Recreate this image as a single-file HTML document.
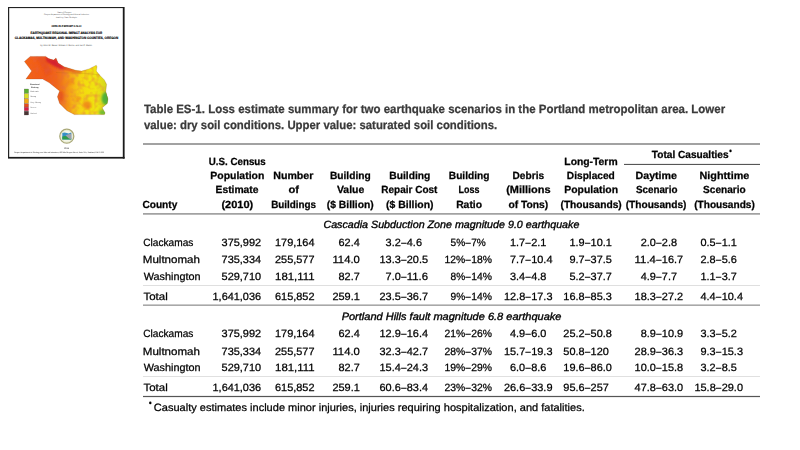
<!DOCTYPE html>
<html><head><meta charset="utf-8"><title>Table ES-1</title>
<style>
html,body{margin:0;padding:0;background:#fff;}
body{width:800px;height:450px;overflow:hidden;position:relative;font-family:"Liberation Sans", sans-serif;}
svg{position:absolute;left:0;top:0;filter:blur(0.2px);}
</style></head><body>
<svg width="800" height="450" viewBox="0 0 800 450" font-family='"Liberation Sans", sans-serif' text-rendering="geometricPrecision">
<g id="cover">
<defs>
<linearGradient id="mapg" x1="24" y1="0" x2="109" y2="0" gradientUnits="userSpaceOnUse">
<stop offset="0" stop-color="#f46414"/>
<stop offset="0.25" stop-color="#f05a18"/>
<stop offset="0.38" stop-color="#f0661a"/>
<stop offset="0.45" stop-color="#f07a1a"/>
<stop offset="0.52" stop-color="#f49a18"/>
<stop offset="0.59" stop-color="#f5bc14"/>
<stop offset="0.66" stop-color="#f4d412"/>
<stop offset="0.75" stop-color="#f2e00e"/>
<stop offset="0.86" stop-color="#eee412"/>
<stop offset="0.92" stop-color="#e0dc18"/>
<stop offset="1" stop-color="#c8d420"/>
</linearGradient>
<filter id="mottle" x="0" y="0" width="100%" height="100%">
<feTurbulence type="fractalNoise" baseFrequency="0.18" numOctaves="2" seed="7" result="n"/>
<feColorMatrix in="n" type="matrix" values="0 0 0 0 0.78  0 0 0 0 0.12  0 0 0 0 0.08  0 0 0 -2.2 1.25" result="r"/>
<feComposite in="r" in2="SourceGraphic" operator="in"/>
</filter>
<linearGradient id="legg" x1="0" y1="88.8" x2="0" y2="115.2" gradientUnits="userSpaceOnUse">
<stop offset="0" stop-color="#58b030"/>
<stop offset="0.22" stop-color="#e8e020"/>
<stop offset="0.45" stop-color="#f0a010"/>
<stop offset="0.62" stop-color="#e84018"/>
<stop offset="0.78" stop-color="#d81848"/>
<stop offset="0.9" stop-color="#602828"/>
<stop offset="1" stop-color="#383030"/>
</linearGradient>
<clipPath id="mapclip"><path id="mapp" d="M30.3,56.4 L45.7,56.4 L48.6,58.6 L53.7,60.1 L56,57.9 L58.2,63 L64,66.7 L75.8,70.3 L81.6,71.1 L89,68.9 L96.3,65.2 L97,66.7 L96.3,71.1 L100,75.5 L104.4,79.9 L106.6,84.3 L105.8,91.6 L108,99 L107.3,103.4 L102.2,107.8 L105.1,112.9 L104.4,114.6 L74.3,114.6 L67,110.7 L59.6,103.4 L57.4,96.8 L59.6,90.9 L56.7,88.7 L49.3,82.8 L42.7,79.1 L25.9,79.1 L31.7,71.1 L24.4,61.5 Z"/></clipPath>
</defs>
<rect x="8" y="7" width="116.6" height="151.6" fill="#fff"/>
<!-- header text lines -->
<g fill="#000" font-family='"Liberation Sans", sans-serif'>
<text x="64.2" y="12.9" font-size="2" text-anchor="middle" fill="#555">State of Oregon</text>
<text x="66.5" y="15.4" font-size="2" text-anchor="middle" fill="#555" textLength="45" lengthAdjust="spacingAndGlyphs">Oregon Department of Geology and Mineral Industries</text>
<text x="66.5" y="18" font-size="2" text-anchor="middle" fill="#555" textLength="21" lengthAdjust="spacingAndGlyphs">Brad Avy, State Geologist</text>
<text x="66.5" y="27.3" font-size="2.4" font-weight="bold" text-anchor="middle" fill="#222" stroke="#222" stroke-width="0.1" textLength="30" lengthAdjust="spacingAndGlyphs">OPEN-FILE REPORT O-18-02</text>
<text x="66.4" y="33.7" font-size="3.4" font-weight="bold" text-anchor="middle" fill="#000" stroke="#000" stroke-width="0.15" textLength="71.7" lengthAdjust="spacingAndGlyphs">EARTHQUAKE REGIONAL IMPACT ANALYSIS FOR</text>
<text x="66.5" y="39.0" font-size="3.4" font-weight="bold" text-anchor="middle" fill="#000" stroke="#000" stroke-width="0.15" textLength="103.4" lengthAdjust="spacingAndGlyphs">CLACKAMAS, MULTNOMAH, AND WASHINGTON COUNTIES, OREGON</text>
<text x="66.1" y="46" font-size="2.2" text-anchor="middle" fill="#444" textLength="51.7" lengthAdjust="spacingAndGlyphs">by John M. Bauer, William J. Burns, and Ian P. Madin</text>
</g>
<!-- map -->
<filter id="soft" x="-5%" y="-5%" width="110%" height="110%"><feGaussianBlur stdDeviation="0.9"/></filter>
<g clip-path="url(#mapclip)">
<rect x="20" y="50" width="95" height="70" fill="url(#mapg)"/>
<rect x="20" y="50" width="95" height="70" fill="#000" filter="url(#mottle)" opacity="0.5"/>
<g filter="url(#soft)">
<path d="M46,56 L48.6,58.6 L53.7,60.1 L56,57.9 L58.2,63 L64,66.7 L66,68 L62,69.5 L57,67.5 L51,64.5 L46,61 Z" fill="#d41c30" opacity="0.95"/>
<path d="M62,66 L75.8,70.3 L81.6,71.1 L81.6,72.8 L75,72.4 L62,69 Z" fill="#e03a24" opacity="0.8"/>
<path d="M36,57 L44,57 L52,72 L47,76 Z" fill="#e04a20" opacity="0.45"/>
<ellipse cx="87" cy="105" rx="4.5" ry="4" fill="#f07018" opacity="0.7"/>
<ellipse cx="78" cy="99" rx="3" ry="2.2" fill="#f08018" opacity="0.55"/>
<ellipse cx="61" cy="96" rx="2.6" ry="5" fill="#e24a18" opacity="0.65"/>
<ellipse cx="70" cy="82" rx="4" ry="2.5" fill="#f07a18" opacity="0.5"/>
<ellipse cx="66" cy="105" rx="4" ry="3" fill="#f08a18" opacity="0.45"/>
<ellipse cx="106" cy="98.5" rx="4.5" ry="6.5" fill="#44ae3c" opacity="0.9"/>
<ellipse cx="103.5" cy="112.5" rx="4.5" ry="3" fill="#5cb838" opacity="0.8"/>
</g>
</g>
<use href="#mapp" fill="none" stroke="#6a3010" stroke-width="0.35" opacity="0.5"/>
<path d="M56,72.5 C70,73.5 85,72.5 100,75" stroke="#8a5010" stroke-width="0.3" opacity="0.45" fill="none"/>
<!-- legend -->
<text x="34.8" y="85.2" font-size="1.9" font-weight="bold" text-anchor="middle" fill="#333" textLength="9.5" lengthAdjust="spacingAndGlyphs">Structural</text>
<text x="34.8" y="88" font-size="1.9" font-weight="bold" text-anchor="middle" fill="#333" textLength="7.5" lengthAdjust="spacingAndGlyphs">Shaking</text>
<g stroke="#555" stroke-width="0.25">
<rect x="24.2" y="89" width="4.4" height="4.2" fill="#5cb030"/>
<rect x="24.2" y="93.6" width="4.4" height="4.6" fill="#dce020"/>
<rect x="24.2" y="98.6" width="4.4" height="4.8" fill="#f2a812"/>
<rect x="24.2" y="103.8" width="4.4" height="3.2" fill="#ea4a1c"/>
<rect x="24.2" y="107.2" width="4.4" height="3.6" fill="#d81c44"/>
<rect x="24.2" y="111.2" width="4.4" height="3.8" fill="#4a3434"/>
</g>
<g fill="#666" font-size="1.9">
<text x="30.2" y="91.8" textLength="8.8" lengthAdjust="spacingAndGlyphs">Moderate</text>
<text x="30.2" y="97.4" textLength="6" lengthAdjust="spacingAndGlyphs">Strong</text>
<text x="30.2" y="102.8" textLength="10.8" lengthAdjust="spacingAndGlyphs">Very Strong</text>
<text x="30.2" y="108.3" textLength="6.2" lengthAdjust="spacingAndGlyphs">Severe</text>
<text x="30.2" y="113.8" textLength="6.4" lengthAdjust="spacingAndGlyphs">Violent</text>
</g>
<!-- logo -->
<circle cx="66.8" cy="136.2" r="7" fill="#f4f6e8" stroke="#a9a878" stroke-width="1.3"/>
<circle cx="66.8" cy="136.2" r="5.9" fill="none" stroke="#d8dcb0" stroke-width="0.4"/>
<path d="M62.3,133 Q64.5,132 66.8,133 Q69,134 71.3,132.6 L71.3,139.4 L62.3,139.4 Z" fill="#3690c8"/>
<path d="M62.3,136.6 Q65.5,135.3 68.5,137.2 L71.3,138.4 L71.3,139.6 L62.3,139.6 Z" fill="#2e9c48"/>
<path d="M65.5,135.2 L71.3,133.6 L71.3,139.2 L68.8,138.6 Z" fill="#a0a0a8"/>
<text x="66.6" y="148.5" font-size="2.2" font-weight="bold" text-anchor="middle" fill="#555">2016</text>
<text x="59" y="153" font-size="1.9" text-anchor="middle" fill="#222" textLength="90" lengthAdjust="spacingAndGlyphs">Oregon Department of Geology and Mineral Industries, 800 NE Oregon Street, Suite 965, Portland, OR 97232</text>
<!-- border -->
<rect x="8" y="7" width="116" height="1.1" fill="#222"/>
<rect x="8" y="7" width="1.2" height="151" fill="#222"/>
<rect x="122.8" y="7" width="1.8" height="151.6" fill="#1a1a1a"/>
<rect x="8" y="156.9" width="116.6" height="1.7" fill="#1a1a1a"/>
</g>

<g id="t" stroke="#000" stroke-width="0.25">
<text x="143.89" y="113.40" font-size="12" textLength="581.26" lengthAdjust="spacingAndGlyphs" font-weight="bold" fill="#3a3a3a" stroke="#3a3a3a">Table ES-1. Loss estimate summary for two earthquake scenarios in the Portland metropolitan area. Lower</text>
<text x="143.94" y="129.40" font-size="12" textLength="353.31" lengthAdjust="spacingAndGlyphs" font-weight="bold" fill="#3a3a3a" stroke="#3a3a3a">value: dry soil conditions. Upper value: saturated soil conditions.</text>
<rect x="143" y="143.20" width="617" height="1.6" fill="#8c8c8c" stroke="none"/>
<rect x="624" y="163.90" width="136" height="1.0" fill="#444" stroke="none"/>
<rect x="143" y="213.20" width="617" height="1.4" fill="#8c8c8c" stroke="none"/>
<rect x="143" y="285.00" width="617" height="0.8" fill="#d8d8d8" stroke="none"/>
<rect x="143" y="304.40" width="617" height="1.6" fill="#a8a8a8" stroke="none"/>
<rect x="143" y="376.10" width="617" height="0.8" fill="#d8d8d8" stroke="none"/>
<rect x="143" y="395.90" width="617" height="1.2" fill="#555" stroke="none"/>
<text x="142.39" y="207.60" font-size="10.4" textLength="34.95" lengthAdjust="spacingAndGlyphs" font-weight="bold">County</text>
<text x="208.82" y="164.70" font-size="10.4" textLength="56.88" lengthAdjust="spacingAndGlyphs" font-weight="bold">U.S. Census</text>
<text x="210.32" y="179.10" font-size="10.4" textLength="54.02" lengthAdjust="spacingAndGlyphs" font-weight="bold">Population</text>
<text x="215.53" y="193.30" font-size="10.4" textLength="43.02" lengthAdjust="spacingAndGlyphs" font-weight="bold">Estimate</text>
<text x="221.45" y="207.60" font-size="10.4" textLength="31.86" lengthAdjust="spacingAndGlyphs" font-weight="bold">(2010)</text>
<text x="273.21" y="179.10" font-size="10.4" textLength="40.23" lengthAdjust="spacingAndGlyphs" font-weight="bold">Number</text>
<text x="288.55" y="193.30" font-size="10.4" textLength="10.53" lengthAdjust="spacingAndGlyphs" font-weight="bold">of</text>
<text x="271.16" y="207.60" font-size="10.4" textLength="44.94" lengthAdjust="spacingAndGlyphs" font-weight="bold">Buildings</text>
<text x="329.94" y="179.10" font-size="10.4" textLength="40.71" lengthAdjust="spacingAndGlyphs" font-weight="bold">Building</text>
<text x="336.95" y="193.30" font-size="10.4" textLength="27.30" lengthAdjust="spacingAndGlyphs" font-weight="bold">Value</text>
<text x="326.78" y="207.60" font-size="10.4" textLength="47.03" lengthAdjust="spacingAndGlyphs" font-weight="bold">($ Billion)</text>
<text x="389.23" y="179.10" font-size="10.4" textLength="41.13" lengthAdjust="spacingAndGlyphs" font-weight="bold">Building</text>
<text x="381.35" y="193.30" font-size="10.4" textLength="56.07" lengthAdjust="spacingAndGlyphs" font-weight="bold">Repair Cost</text>
<text x="386.08" y="207.60" font-size="10.4" textLength="47.44" lengthAdjust="spacingAndGlyphs" font-weight="bold">($ Billion)</text>
<text x="448.84" y="179.10" font-size="10.4" textLength="40.61" lengthAdjust="spacingAndGlyphs" font-weight="bold">Building</text>
<text x="458.62" y="193.30" font-size="10.4" textLength="20.83" lengthAdjust="spacingAndGlyphs" font-weight="bold">Loss</text>
<text x="456.13" y="207.60" font-size="10.4" textLength="25.94" lengthAdjust="spacingAndGlyphs" font-weight="bold">Ratio</text>
<text x="512.54" y="179.10" font-size="10.4" textLength="31.59" lengthAdjust="spacingAndGlyphs" font-weight="bold">Debris</text>
<text x="506.15" y="193.30" font-size="10.4" textLength="44.49" lengthAdjust="spacingAndGlyphs" font-weight="bold">(Millions</text>
<text x="508.39" y="207.60" font-size="10.4" textLength="39.92" lengthAdjust="spacingAndGlyphs" font-weight="bold">of Tons)</text>
<text x="564.33" y="164.70" font-size="10.4" textLength="53.27" lengthAdjust="spacingAndGlyphs" font-weight="bold">Long-Term</text>
<text x="566.84" y="179.10" font-size="10.4" textLength="48.01" lengthAdjust="spacingAndGlyphs" font-weight="bold">Displaced</text>
<text x="564.32" y="193.30" font-size="10.4" textLength="53.71" lengthAdjust="spacingAndGlyphs" font-weight="bold">Population</text>
<text x="560.49" y="207.60" font-size="10.4" textLength="61.22" lengthAdjust="spacingAndGlyphs" font-weight="bold">(Thousands)</text>
<text x="651.80" y="158.20" font-size="10.4" textLength="76.80" lengthAdjust="spacingAndGlyphs" font-weight="bold">Total Casualties</text>
<ellipse cx="730.5" cy="150.9" rx="1.2" ry="1.3" fill="#000" stroke="none"/>
<text x="635.51" y="179.10" font-size="10.4" textLength="41.52" lengthAdjust="spacingAndGlyphs" font-weight="bold">Daytime</text>
<text x="635.91" y="193.30" font-size="10.4" textLength="41.53" lengthAdjust="spacingAndGlyphs" font-weight="bold">Scenario</text>
<text x="625.69" y="207.60" font-size="10.4" textLength="60.81" lengthAdjust="spacingAndGlyphs" font-weight="bold">(Thousands)</text>
<text x="699.50" y="179.10" font-size="10.4" textLength="49.84" lengthAdjust="spacingAndGlyphs" font-weight="bold">Nighttime</text>
<text x="703.10" y="193.30" font-size="10.4" textLength="42.65" lengthAdjust="spacingAndGlyphs" font-weight="bold">Scenario</text>
<text x="694.19" y="207.60" font-size="10.4" textLength="60.61" lengthAdjust="spacingAndGlyphs" font-weight="bold">(Thousands)</text>
<text x="323.41" y="228.40" font-size="10.5" textLength="255.97" lengthAdjust="spacingAndGlyphs" font-style="italic" stroke-width="0.35">Cascadia Subduction Zone magnitude 9.0 earthquake</text>
<text x="341.67" y="319.60" font-size="10.5" textLength="219.74" lengthAdjust="spacingAndGlyphs" font-style="italic" stroke-width="0.35">Portland Hills fault magnitude 6.8 earthquake</text>
<text x="143.19" y="245.50" font-size="10.5" textLength="50.17" lengthAdjust="spacingAndGlyphs">Clackamas</text>
<text x="221.61" y="245.50" font-size="10.5" textLength="39.49" lengthAdjust="spacingAndGlyphs">375,992</text>
<text x="275.06" y="245.50" font-size="10.5" textLength="39.49" lengthAdjust="spacingAndGlyphs">179,164</text>
<text x="338.53" y="245.50" font-size="10.5" textLength="21.27" lengthAdjust="spacingAndGlyphs">62.4</text>
<text x="385.62" y="245.50" font-size="10.5" textLength="15.19" lengthAdjust="spacingAndGlyphs">3.2</text>
<text x="401.21" y="245.50" font-size="10.5" textLength="5.18" lengthAdjust="spacingAndGlyphs">–</text>
<text x="406.79" y="245.50" font-size="10.5" textLength="15.19" lengthAdjust="spacingAndGlyphs">4.6</text>
<text x="450.59" y="245.50" font-size="10.5" textLength="14.62" lengthAdjust="spacingAndGlyphs">5%</text>
<text x="465.61" y="245.50" font-size="10.5" textLength="5.18" lengthAdjust="spacingAndGlyphs">–</text>
<text x="471.19" y="245.50" font-size="10.5" textLength="14.62" lengthAdjust="spacingAndGlyphs">7%</text>
<text x="510.02" y="245.50" font-size="10.5" textLength="15.19" lengthAdjust="spacingAndGlyphs">1.7</text>
<text x="525.61" y="245.50" font-size="10.5" textLength="5.18" lengthAdjust="spacingAndGlyphs">–</text>
<text x="531.19" y="245.50" font-size="10.5" textLength="15.19" lengthAdjust="spacingAndGlyphs">2.1</text>
<text x="569.42" y="245.50" font-size="10.5" textLength="15.19" lengthAdjust="spacingAndGlyphs">1.9</text>
<text x="585.01" y="245.50" font-size="10.5" textLength="5.18" lengthAdjust="spacingAndGlyphs">–</text>
<text x="590.59" y="245.50" font-size="10.5" textLength="21.27" lengthAdjust="spacingAndGlyphs">10.1</text>
<text x="640.72" y="245.50" font-size="10.5" textLength="15.19" lengthAdjust="spacingAndGlyphs">2.0</text>
<text x="656.31" y="245.50" font-size="10.5" textLength="5.18" lengthAdjust="spacingAndGlyphs">–</text>
<text x="661.89" y="245.50" font-size="10.5" textLength="15.19" lengthAdjust="spacingAndGlyphs">2.8</text>
<text x="700.52" y="245.50" font-size="10.5" textLength="15.19" lengthAdjust="spacingAndGlyphs">0.5</text>
<text x="716.11" y="245.50" font-size="10.5" textLength="5.18" lengthAdjust="spacingAndGlyphs">–</text>
<text x="721.69" y="245.50" font-size="10.5" textLength="15.19" lengthAdjust="spacingAndGlyphs">1.1</text>
<text x="142.77" y="263.15" font-size="10.5" textLength="57.24" lengthAdjust="spacingAndGlyphs">Multnomah</text>
<text x="221.61" y="263.15" font-size="10.5" textLength="39.49" lengthAdjust="spacingAndGlyphs">735,334</text>
<text x="275.06" y="263.15" font-size="10.5" textLength="39.49" lengthAdjust="spacingAndGlyphs">255,577</text>
<text x="332.44" y="263.15" font-size="10.5" textLength="27.36" lengthAdjust="spacingAndGlyphs">114.0</text>
<text x="379.54" y="263.15" font-size="10.5" textLength="21.27" lengthAdjust="spacingAndGlyphs">13.3</text>
<text x="401.21" y="263.15" font-size="10.5" textLength="5.18" lengthAdjust="spacingAndGlyphs">–</text>
<text x="406.79" y="263.15" font-size="10.5" textLength="21.27" lengthAdjust="spacingAndGlyphs">20.5</text>
<text x="444.51" y="263.15" font-size="10.5" textLength="20.70" lengthAdjust="spacingAndGlyphs">12%</text>
<text x="465.61" y="263.15" font-size="10.5" textLength="5.18" lengthAdjust="spacingAndGlyphs">–</text>
<text x="471.19" y="263.15" font-size="10.5" textLength="20.70" lengthAdjust="spacingAndGlyphs">18%</text>
<text x="510.02" y="263.15" font-size="10.5" textLength="15.19" lengthAdjust="spacingAndGlyphs">7.7</text>
<text x="525.61" y="263.15" font-size="10.5" textLength="5.18" lengthAdjust="spacingAndGlyphs">–</text>
<text x="531.19" y="263.15" font-size="10.5" textLength="21.27" lengthAdjust="spacingAndGlyphs">10.4</text>
<text x="569.42" y="263.15" font-size="10.5" textLength="15.19" lengthAdjust="spacingAndGlyphs">9.7</text>
<text x="585.01" y="263.15" font-size="10.5" textLength="5.18" lengthAdjust="spacingAndGlyphs">–</text>
<text x="590.59" y="263.15" font-size="10.5" textLength="21.27" lengthAdjust="spacingAndGlyphs">37.5</text>
<text x="634.64" y="263.15" font-size="10.5" textLength="21.27" lengthAdjust="spacingAndGlyphs">11.4</text>
<text x="656.31" y="263.15" font-size="10.5" textLength="5.18" lengthAdjust="spacingAndGlyphs">–</text>
<text x="661.89" y="263.15" font-size="10.5" textLength="21.27" lengthAdjust="spacingAndGlyphs">16.7</text>
<text x="700.52" y="263.15" font-size="10.5" textLength="15.19" lengthAdjust="spacingAndGlyphs">2.8</text>
<text x="716.11" y="263.15" font-size="10.5" textLength="5.18" lengthAdjust="spacingAndGlyphs">–</text>
<text x="721.69" y="263.15" font-size="10.5" textLength="15.19" lengthAdjust="spacingAndGlyphs">5.6</text>
<text x="143.65" y="280.30" font-size="10.5" textLength="56.89" lengthAdjust="spacingAndGlyphs">Washington</text>
<text x="221.61" y="280.30" font-size="10.5" textLength="39.49" lengthAdjust="spacingAndGlyphs">529,710</text>
<text x="275.06" y="280.30" font-size="10.5" textLength="39.49" lengthAdjust="spacingAndGlyphs">181,111</text>
<text x="338.53" y="280.30" font-size="10.5" textLength="21.27" lengthAdjust="spacingAndGlyphs">82.7</text>
<text x="385.62" y="280.30" font-size="10.5" textLength="15.19" lengthAdjust="spacingAndGlyphs">7.0</text>
<text x="401.21" y="280.30" font-size="10.5" textLength="5.18" lengthAdjust="spacingAndGlyphs">–</text>
<text x="406.79" y="280.30" font-size="10.5" textLength="21.27" lengthAdjust="spacingAndGlyphs">11.6</text>
<text x="450.59" y="280.30" font-size="10.5" textLength="14.62" lengthAdjust="spacingAndGlyphs">8%</text>
<text x="465.61" y="280.30" font-size="10.5" textLength="5.18" lengthAdjust="spacingAndGlyphs">–</text>
<text x="471.19" y="280.30" font-size="10.5" textLength="20.70" lengthAdjust="spacingAndGlyphs">14%</text>
<text x="510.02" y="280.30" font-size="10.5" textLength="15.19" lengthAdjust="spacingAndGlyphs">3.4</text>
<text x="525.61" y="280.30" font-size="10.5" textLength="5.18" lengthAdjust="spacingAndGlyphs">–</text>
<text x="531.19" y="280.30" font-size="10.5" textLength="15.19" lengthAdjust="spacingAndGlyphs">4.8</text>
<text x="569.42" y="280.30" font-size="10.5" textLength="15.19" lengthAdjust="spacingAndGlyphs">5.2</text>
<text x="585.01" y="280.30" font-size="10.5" textLength="5.18" lengthAdjust="spacingAndGlyphs">–</text>
<text x="590.59" y="280.30" font-size="10.5" textLength="21.27" lengthAdjust="spacingAndGlyphs">37.7</text>
<text x="640.72" y="280.30" font-size="10.5" textLength="15.19" lengthAdjust="spacingAndGlyphs">4.9</text>
<text x="656.31" y="280.30" font-size="10.5" textLength="5.18" lengthAdjust="spacingAndGlyphs">–</text>
<text x="661.89" y="280.30" font-size="10.5" textLength="15.19" lengthAdjust="spacingAndGlyphs">7.7</text>
<text x="700.52" y="280.30" font-size="10.5" textLength="15.19" lengthAdjust="spacingAndGlyphs">1.1</text>
<text x="716.11" y="280.30" font-size="10.5" textLength="5.18" lengthAdjust="spacingAndGlyphs">–</text>
<text x="721.69" y="280.30" font-size="10.5" textLength="15.19" lengthAdjust="spacingAndGlyphs">3.7</text>
<text x="143.47" y="299.60" font-size="10.5" textLength="24.30" lengthAdjust="spacingAndGlyphs">Total</text>
<text x="212.54" y="299.60" font-size="10.5" textLength="48.56" lengthAdjust="spacingAndGlyphs">1,641,036</text>
<text x="275.06" y="299.60" font-size="10.5" textLength="39.49" lengthAdjust="spacingAndGlyphs">615,852</text>
<text x="332.44" y="299.60" font-size="10.5" textLength="27.36" lengthAdjust="spacingAndGlyphs">259.1</text>
<text x="379.54" y="299.60" font-size="10.5" textLength="21.27" lengthAdjust="spacingAndGlyphs">23.5</text>
<text x="401.21" y="299.60" font-size="10.5" textLength="5.18" lengthAdjust="spacingAndGlyphs">–</text>
<text x="406.79" y="299.60" font-size="10.5" textLength="21.27" lengthAdjust="spacingAndGlyphs">36.7</text>
<text x="450.59" y="299.60" font-size="10.5" textLength="14.62" lengthAdjust="spacingAndGlyphs">9%</text>
<text x="465.61" y="299.60" font-size="10.5" textLength="5.18" lengthAdjust="spacingAndGlyphs">–</text>
<text x="471.19" y="299.60" font-size="10.5" textLength="20.70" lengthAdjust="spacingAndGlyphs">14%</text>
<text x="503.94" y="299.60" font-size="10.5" textLength="21.27" lengthAdjust="spacingAndGlyphs">12.8</text>
<text x="525.61" y="299.60" font-size="10.5" textLength="5.18" lengthAdjust="spacingAndGlyphs">–</text>
<text x="531.19" y="299.60" font-size="10.5" textLength="21.27" lengthAdjust="spacingAndGlyphs">17.3</text>
<text x="563.34" y="299.60" font-size="10.5" textLength="21.27" lengthAdjust="spacingAndGlyphs">16.8</text>
<text x="585.01" y="299.60" font-size="10.5" textLength="5.18" lengthAdjust="spacingAndGlyphs">–</text>
<text x="590.59" y="299.60" font-size="10.5" textLength="21.27" lengthAdjust="spacingAndGlyphs">85.3</text>
<text x="634.64" y="299.60" font-size="10.5" textLength="21.27" lengthAdjust="spacingAndGlyphs">18.3</text>
<text x="656.31" y="299.60" font-size="10.5" textLength="5.18" lengthAdjust="spacingAndGlyphs">–</text>
<text x="661.89" y="299.60" font-size="10.5" textLength="21.27" lengthAdjust="spacingAndGlyphs">27.2</text>
<text x="700.52" y="299.60" font-size="10.5" textLength="15.19" lengthAdjust="spacingAndGlyphs">4.4</text>
<text x="716.11" y="299.60" font-size="10.5" textLength="5.18" lengthAdjust="spacingAndGlyphs">–</text>
<text x="721.69" y="299.60" font-size="10.5" textLength="21.27" lengthAdjust="spacingAndGlyphs">10.4</text>
<text x="143.19" y="336.80" font-size="10.5" textLength="50.17" lengthAdjust="spacingAndGlyphs">Clackamas</text>
<text x="221.61" y="336.80" font-size="10.5" textLength="39.49" lengthAdjust="spacingAndGlyphs">375,992</text>
<text x="275.06" y="336.80" font-size="10.5" textLength="39.49" lengthAdjust="spacingAndGlyphs">179,164</text>
<text x="338.53" y="336.80" font-size="10.5" textLength="21.27" lengthAdjust="spacingAndGlyphs">62.4</text>
<text x="379.54" y="336.80" font-size="10.5" textLength="21.27" lengthAdjust="spacingAndGlyphs">12.9</text>
<text x="401.21" y="336.80" font-size="10.5" textLength="5.18" lengthAdjust="spacingAndGlyphs">–</text>
<text x="406.79" y="336.80" font-size="10.5" textLength="21.27" lengthAdjust="spacingAndGlyphs">16.4</text>
<text x="444.51" y="336.80" font-size="10.5" textLength="20.70" lengthAdjust="spacingAndGlyphs">21%</text>
<text x="465.61" y="336.80" font-size="10.5" textLength="5.18" lengthAdjust="spacingAndGlyphs">–</text>
<text x="471.19" y="336.80" font-size="10.5" textLength="20.70" lengthAdjust="spacingAndGlyphs">26%</text>
<text x="510.02" y="336.80" font-size="10.5" textLength="15.19" lengthAdjust="spacingAndGlyphs">4.9</text>
<text x="525.61" y="336.80" font-size="10.5" textLength="5.18" lengthAdjust="spacingAndGlyphs">–</text>
<text x="531.19" y="336.80" font-size="10.5" textLength="15.19" lengthAdjust="spacingAndGlyphs">6.0</text>
<text x="563.34" y="336.80" font-size="10.5" textLength="21.27" lengthAdjust="spacingAndGlyphs">25.2</text>
<text x="585.01" y="336.80" font-size="10.5" textLength="5.18" lengthAdjust="spacingAndGlyphs">–</text>
<text x="590.59" y="336.80" font-size="10.5" textLength="21.27" lengthAdjust="spacingAndGlyphs">50.8</text>
<text x="640.72" y="336.80" font-size="10.5" textLength="15.19" lengthAdjust="spacingAndGlyphs">8.9</text>
<text x="656.31" y="336.80" font-size="10.5" textLength="5.18" lengthAdjust="spacingAndGlyphs">–</text>
<text x="661.89" y="336.80" font-size="10.5" textLength="21.27" lengthAdjust="spacingAndGlyphs">10.9</text>
<text x="700.52" y="336.80" font-size="10.5" textLength="15.19" lengthAdjust="spacingAndGlyphs">3.3</text>
<text x="716.11" y="336.80" font-size="10.5" textLength="5.18" lengthAdjust="spacingAndGlyphs">–</text>
<text x="721.69" y="336.80" font-size="10.5" textLength="15.19" lengthAdjust="spacingAndGlyphs">5.2</text>
<text x="142.77" y="354.60" font-size="10.5" textLength="57.24" lengthAdjust="spacingAndGlyphs">Multnomah</text>
<text x="221.61" y="354.60" font-size="10.5" textLength="39.49" lengthAdjust="spacingAndGlyphs">735,334</text>
<text x="275.06" y="354.60" font-size="10.5" textLength="39.49" lengthAdjust="spacingAndGlyphs">255,577</text>
<text x="332.44" y="354.60" font-size="10.5" textLength="27.36" lengthAdjust="spacingAndGlyphs">114.0</text>
<text x="379.54" y="354.60" font-size="10.5" textLength="21.27" lengthAdjust="spacingAndGlyphs">32.3</text>
<text x="401.21" y="354.60" font-size="10.5" textLength="5.18" lengthAdjust="spacingAndGlyphs">–</text>
<text x="406.79" y="354.60" font-size="10.5" textLength="21.27" lengthAdjust="spacingAndGlyphs">42.7</text>
<text x="444.51" y="354.60" font-size="10.5" textLength="20.70" lengthAdjust="spacingAndGlyphs">28%</text>
<text x="465.61" y="354.60" font-size="10.5" textLength="5.18" lengthAdjust="spacingAndGlyphs">–</text>
<text x="471.19" y="354.60" font-size="10.5" textLength="20.70" lengthAdjust="spacingAndGlyphs">37%</text>
<text x="503.94" y="354.60" font-size="10.5" textLength="21.27" lengthAdjust="spacingAndGlyphs">15.7</text>
<text x="525.61" y="354.60" font-size="10.5" textLength="5.18" lengthAdjust="spacingAndGlyphs">–</text>
<text x="531.19" y="354.60" font-size="10.5" textLength="21.27" lengthAdjust="spacingAndGlyphs">19.3</text>
<text x="563.34" y="354.60" font-size="10.5" textLength="21.27" lengthAdjust="spacingAndGlyphs">50.8</text>
<text x="585.01" y="354.60" font-size="10.5" textLength="5.18" lengthAdjust="spacingAndGlyphs">–</text>
<text x="590.59" y="354.60" font-size="10.5" textLength="18.25" lengthAdjust="spacingAndGlyphs">120</text>
<text x="634.64" y="354.60" font-size="10.5" textLength="21.27" lengthAdjust="spacingAndGlyphs">28.9</text>
<text x="656.31" y="354.60" font-size="10.5" textLength="5.18" lengthAdjust="spacingAndGlyphs">–</text>
<text x="661.89" y="354.60" font-size="10.5" textLength="21.27" lengthAdjust="spacingAndGlyphs">36.3</text>
<text x="700.52" y="354.60" font-size="10.5" textLength="15.19" lengthAdjust="spacingAndGlyphs">9.3</text>
<text x="716.11" y="354.60" font-size="10.5" textLength="5.18" lengthAdjust="spacingAndGlyphs">–</text>
<text x="721.69" y="354.60" font-size="10.5" textLength="21.27" lengthAdjust="spacingAndGlyphs">15.3</text>
<text x="143.65" y="370.80" font-size="10.5" textLength="56.89" lengthAdjust="spacingAndGlyphs">Washington</text>
<text x="221.61" y="370.80" font-size="10.5" textLength="39.49" lengthAdjust="spacingAndGlyphs">529,710</text>
<text x="275.06" y="370.80" font-size="10.5" textLength="39.49" lengthAdjust="spacingAndGlyphs">181,111</text>
<text x="338.53" y="370.80" font-size="10.5" textLength="21.27" lengthAdjust="spacingAndGlyphs">82.7</text>
<text x="379.54" y="370.80" font-size="10.5" textLength="21.27" lengthAdjust="spacingAndGlyphs">15.4</text>
<text x="401.21" y="370.80" font-size="10.5" textLength="5.18" lengthAdjust="spacingAndGlyphs">–</text>
<text x="406.79" y="370.80" font-size="10.5" textLength="21.27" lengthAdjust="spacingAndGlyphs">24.3</text>
<text x="444.51" y="370.80" font-size="10.5" textLength="20.70" lengthAdjust="spacingAndGlyphs">19%</text>
<text x="465.61" y="370.80" font-size="10.5" textLength="5.18" lengthAdjust="spacingAndGlyphs">–</text>
<text x="471.19" y="370.80" font-size="10.5" textLength="20.70" lengthAdjust="spacingAndGlyphs">29%</text>
<text x="510.02" y="370.80" font-size="10.5" textLength="15.19" lengthAdjust="spacingAndGlyphs">6.0</text>
<text x="525.61" y="370.80" font-size="10.5" textLength="5.18" lengthAdjust="spacingAndGlyphs">–</text>
<text x="531.19" y="370.80" font-size="10.5" textLength="15.19" lengthAdjust="spacingAndGlyphs">8.6</text>
<text x="563.34" y="370.80" font-size="10.5" textLength="21.27" lengthAdjust="spacingAndGlyphs">19.6</text>
<text x="585.01" y="370.80" font-size="10.5" textLength="5.18" lengthAdjust="spacingAndGlyphs">–</text>
<text x="590.59" y="370.80" font-size="10.5" textLength="21.27" lengthAdjust="spacingAndGlyphs">86.0</text>
<text x="634.64" y="370.80" font-size="10.5" textLength="21.27" lengthAdjust="spacingAndGlyphs">10.0</text>
<text x="656.31" y="370.80" font-size="10.5" textLength="5.18" lengthAdjust="spacingAndGlyphs">–</text>
<text x="661.89" y="370.80" font-size="10.5" textLength="21.27" lengthAdjust="spacingAndGlyphs">15.8</text>
<text x="700.52" y="370.80" font-size="10.5" textLength="15.19" lengthAdjust="spacingAndGlyphs">3.2</text>
<text x="716.11" y="370.80" font-size="10.5" textLength="5.18" lengthAdjust="spacingAndGlyphs">–</text>
<text x="721.69" y="370.80" font-size="10.5" textLength="15.19" lengthAdjust="spacingAndGlyphs">8.5</text>
<text x="143.47" y="390.70" font-size="10.5" textLength="24.30" lengthAdjust="spacingAndGlyphs">Total</text>
<text x="212.54" y="390.70" font-size="10.5" textLength="48.56" lengthAdjust="spacingAndGlyphs">1,641,036</text>
<text x="275.06" y="390.70" font-size="10.5" textLength="39.49" lengthAdjust="spacingAndGlyphs">615,852</text>
<text x="332.44" y="390.70" font-size="10.5" textLength="27.36" lengthAdjust="spacingAndGlyphs">259.1</text>
<text x="379.54" y="390.70" font-size="10.5" textLength="21.27" lengthAdjust="spacingAndGlyphs">60.6</text>
<text x="401.21" y="390.70" font-size="10.5" textLength="5.18" lengthAdjust="spacingAndGlyphs">–</text>
<text x="406.79" y="390.70" font-size="10.5" textLength="21.27" lengthAdjust="spacingAndGlyphs">83.4</text>
<text x="444.51" y="390.70" font-size="10.5" textLength="20.70" lengthAdjust="spacingAndGlyphs">23%</text>
<text x="465.61" y="390.70" font-size="10.5" textLength="5.18" lengthAdjust="spacingAndGlyphs">–</text>
<text x="471.19" y="390.70" font-size="10.5" textLength="20.70" lengthAdjust="spacingAndGlyphs">32%</text>
<text x="503.94" y="390.70" font-size="10.5" textLength="21.27" lengthAdjust="spacingAndGlyphs">26.6</text>
<text x="525.61" y="390.70" font-size="10.5" textLength="5.18" lengthAdjust="spacingAndGlyphs">–</text>
<text x="531.19" y="390.70" font-size="10.5" textLength="21.27" lengthAdjust="spacingAndGlyphs">33.9</text>
<text x="563.34" y="390.70" font-size="10.5" textLength="21.27" lengthAdjust="spacingAndGlyphs">95.6</text>
<text x="585.01" y="390.70" font-size="10.5" textLength="5.18" lengthAdjust="spacingAndGlyphs">–</text>
<text x="590.59" y="390.70" font-size="10.5" textLength="18.25" lengthAdjust="spacingAndGlyphs">257</text>
<text x="634.64" y="390.70" font-size="10.5" textLength="21.27" lengthAdjust="spacingAndGlyphs">47.8</text>
<text x="656.31" y="390.70" font-size="10.5" textLength="5.18" lengthAdjust="spacingAndGlyphs">–</text>
<text x="661.89" y="390.70" font-size="10.5" textLength="21.27" lengthAdjust="spacingAndGlyphs">63.0</text>
<text x="694.44" y="390.70" font-size="10.5" textLength="21.27" lengthAdjust="spacingAndGlyphs">15.8</text>
<text x="716.11" y="390.70" font-size="10.5" textLength="5.18" lengthAdjust="spacingAndGlyphs">–</text>
<text x="721.69" y="390.70" font-size="10.5" textLength="21.27" lengthAdjust="spacingAndGlyphs">29.0</text>
<ellipse cx="150.3" cy="402.9" rx="1.2" ry="1.3" fill="#000" stroke="none"/>
<text x="153.85" y="410.60" font-size="10.6" textLength="430.90" lengthAdjust="spacingAndGlyphs">Casualty estimates include minor injuries, injuries requiring hospitalization, and fatalities.</text>
</g>
</svg>
</body></html>
